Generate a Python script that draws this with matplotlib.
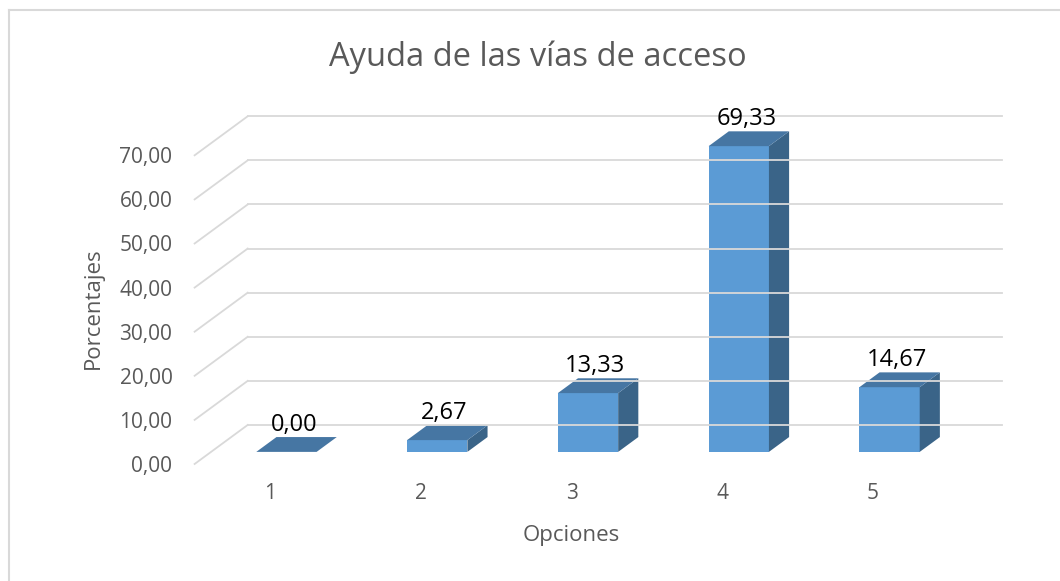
import matplotlib.pyplot as plt
from matplotlib.patches import Polygon
from matplotlib.lines import Line2D

opciones = [1, 2, 3, 4, 5]
porcentajes = [0.00, 2.67, 13.33, 69.33, 14.67]
y_ticks = [0, 10, 20, 30, 40, 50, 60, 70]

# fake 3d: shift per unit of depth, in data units
DX = 0.352
DV = 8.85
D0, D1 = 0.31, 0.69
W = 0.4

front_c = '#5b9bd5'
top_c = '#4676a3'
side_c = '#3a6488'
grid_c = '#d9d9d9'
txt_c = '#595959'

plt.rcParams['font.family'] = ['Open Sans', 'DejaVu Sans']

fig = plt.figure(figsize=(10.6, 5.81), dpi=100)
ax = fig.add_axes([0.1836, 0.2014, 0.7112, 0.6072])
ax.set_xlim(0.5, 5.5)
ax.set_ylim(0, 80)
ax.patch.set_visible(False)
for s in ax.spines.values():
    s.set_visible(False)


def pt(x, v, d):
    return (x + DX * d, v + DV * d)


# side wall diagonals and back wall grid
for v in y_ticks:
    ax.plot(*zip(pt(0.5, v, 0), pt(0.5, v, 1)), color=grid_c, lw=1.3, clip_on=False)
    ax.plot(*zip(pt(0.5, v, 1), pt(5.5, v, 1)), color=grid_c, lw=1.3, clip_on=False)

for x, h in zip(opciones, porcentajes):
    l, r = x - W / 2, x + W / 2
    if h > 0:
        ax.add_patch(Polygon([pt(l, 0, D0), pt(r, 0, D0), pt(r, h, D0), pt(l, h, D0)],
                             closed=True, fc=front_c, ec='none', clip_on=False))
        ax.add_patch(Polygon([pt(r, 0, D0), pt(r, 0, D1), pt(r, h, D1), pt(r, h, D0)],
                             closed=True, fc=side_c, ec='none', clip_on=False))
    ax.add_patch(Polygon([pt(l, h, D0), pt(r, h, D0), pt(r, h, D1), pt(l, h, D1)],
                         closed=True, fc=top_c, ec='none', clip_on=False))
    lx, lv = pt(x, h, D1)
    ax.annotate(f'{h:.2f}'.replace('.', ','), (x + DX * 0.45, lv), xytext=(0, 0),
                textcoords='offset points', ha='center', va='bottom',
                fontsize=17, color='black', annotation_clip=False)

ax.set_yticks(y_ticks)
ax.set_yticklabels([f'{v:.2f}'.replace('.', ',') for v in y_ticks])
ax.set_xticks(opciones)
ax.set_xticklabels([str(o) for o in opciones])
ax.tick_params(axis='y', length=0, pad=16, labelsize=15, labelcolor=txt_c)
ax.tick_params(axis='x', length=0, pad=14, labelsize=15, labelcolor=txt_c)

fig.text(538 / 1060, 1 - 57 / 581, 'Ayuda de las vías de acceso', ha='center', va='center',
         fontsize=23.5, color=txt_c)
fig.text(571 / 1060, 1 - 535 / 581, 'Opciones', ha='center', va='center',
         fontsize=16, color=txt_c)
fig.text(93 / 1060, 1 - 308 / 581, 'Porcentajes', ha='center', va='center',
         rotation=90, fontsize=16, color=txt_c)

# chart border (runs off the right and bottom edges)
fig.add_artist(Line2D([9 / 1060, 1], [1 - 10 / 581] * 2, color=grid_c, lw=1.5,
                      transform=fig.transFigure))
fig.add_artist(Line2D([9 / 1060] * 2, [0, 1 - 10 / 581], color=grid_c, lw=1.5,
                      transform=fig.transFigure))

fig.savefig('out.png', dpi=100)
plt.close(fig)
